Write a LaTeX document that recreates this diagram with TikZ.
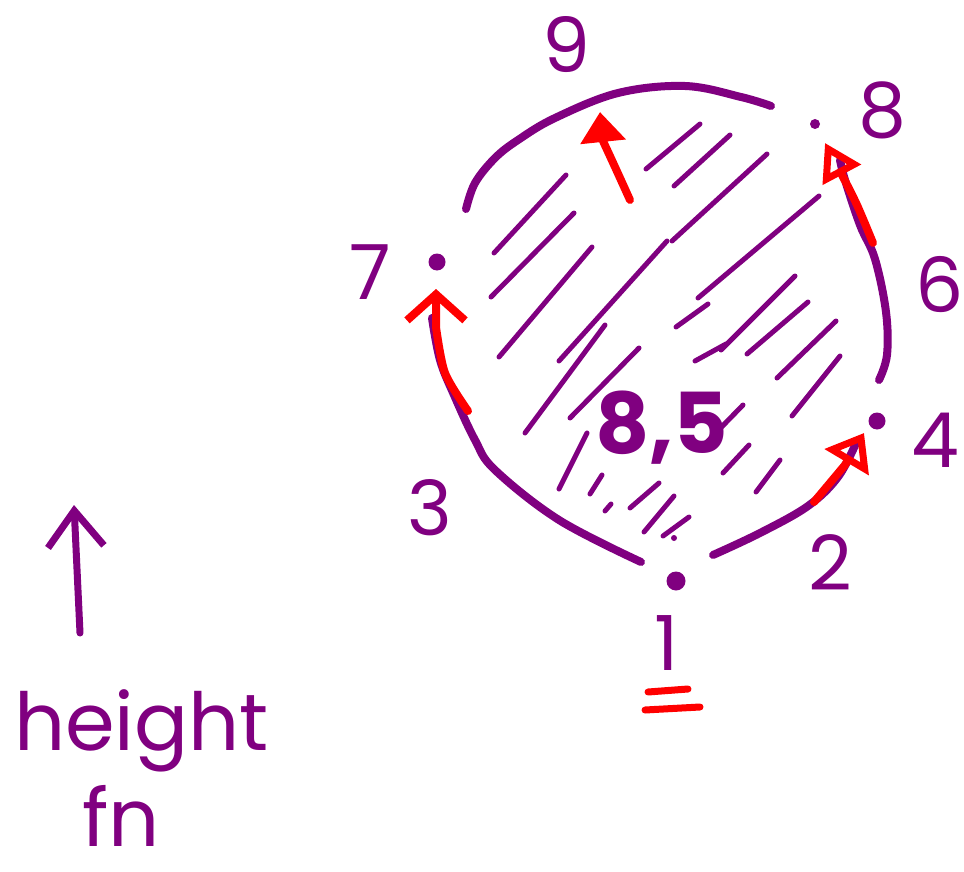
\documentclass[tikz,border=0pt]{standalone}
\usepackage{fontspec}
\setmainfont{Poppins}
\usetikzlibrary{arrows.meta}
\definecolor{pur}{HTML}{800080}
\definecolor{rd}{HTML}{FF0000}
\begin{document}
\begin{tikzpicture}[x=1pt,y=-1pt, line cap=round, line join=round,
 arcline/.style={pur, line width=8pt},
 hatch/.style={pur, line width=5pt},
 redarrow/.style={rd, line width=8pt},
 dot/.style={circle, fill=pur, inner sep=0pt},
 num/.style={pur, font=\fontsize{76}{76}\selectfont, inner sep=0pt}]
\useasboundingbox (0,0) rectangle (964,872);

% points
\node[dot, minimum size=19pt] (p1) at (676,581) {};
\node[dot, minimum size=17pt] (p4) at (877,421) {};
\node[dot, minimum size=17pt] (p7) at (437,262) {};
\node[dot, minimum size=10pt] (p8) at (815,124) {};

% labels
\node[num] (l9) at (566,45) {9};
\node[num] (l8) at (882,110) {8};
\node[num] (l7) at (370,272) {7};
\node[num] (l6) at (940,285) {6};
\node[num] (l4) at (935,440) {4};
\node[num] (l3) at (430,508) {3};
\node[num] (l2) at (830,563) {2};
\node[num] (l1) at (667,643) {1};
\node[num, font=\fontsize{84}{84}\selectfont\bfseries] (l85) at (662,428) {8,5};

% equals under 1
\draw[rd, line width=7pt] (648,692) -- (688,689);
\draw[rd, line width=7pt] (645,710) -- (700,707);

% purple boundary strokes
\draw[arcline] plot[smooth, tension=0.6] coordinates {(466,209) (475,183) (495,158) (518,140) (555,118) (618,93) (685,86) (741,97) (771,106)};
\draw[arcline] plot[smooth, tension=0.6] coordinates {(641,562) (559,520) (495,470) (475,440) (454,395) (440,360) (432,318)};
\draw[arcline] plot[smooth, tension=0.6] coordinates {(713,555) (760,533) (808,506) (838,477) (857,441)};
\draw[arcline] plot[smooth, tension=0.6] coordinates {(879,380) (887,355) (886,312) (875,259) (860,225) (845,180) (840,160)};

% hatching
\foreach \a/\b in {
 {(494,253)}/{(566,175)}, {(491,297)}/{(574,213)}, {(499,357)}/{(592,247)},
 {(646,169)}/{(700,124)}, {(674,186)}/{(730,135)}, {(672,241)}/{(767,154)},
 {(559,361)}/{(667,241)}, {(525,433)}/{(605,325)}, {(570,418)}/{(639,348)},
 {(698,298)}/{(819,196)}, {(676,327)}/{(708,304)}, {(721,350)}/{(795,276)},
 {(747,354)}/{(808,302)}, {(695,361)}/{(726,344)}, {(777,378)}/{(836,321)},
 {(792,416)}/{(840,356)}, {(706,443)}/{(743,405)}, {(723,473)}/{(749,445)},
 {(756,492)}/{(780,460)}, {(559,489)}/{(587,433)}, {(590,494)}/{(602,475)},
 {(605,511)}/{(611,504)}, {(630,508)}/{(659,483)}, {(644,532)}/{(674,496)},
 {(663,536)}/{(689,517)}}
 \draw[hatch] \a -- \b;
\fill[pur] (674,538) circle (3pt);

% red arrows
\draw[redarrow, -{Triangle[length=30pt,width=44pt]}] plot[smooth] coordinates {(630,200) (615,167) (603,141)} -- (600,112);
\draw[redarrow, -{Triangle[open,length=36pt,width=42pt,line width=7pt]}] plot[smooth] coordinates {(873,243) (857,205) (842,175)} -- (825,143);
\draw[redarrow, -{Straight Barb[length=26pt,width=58pt]}] plot[smooth] coordinates {(468,411) (445,373) (436,327)} -- (436,289);
\draw[redarrow, -{Triangle[open,length=34pt,width=50pt,line width=7pt]}] plot[smooth] coordinates {(814,502) (845,465)} -- (864,433);

% height fn
\coordinate (hs) at (80,633);
\coordinate (he) at (74,505);
\draw[pur, line width=7pt, -{Straight Barb[length=36pt,width=56pt]}] (hs) -- (he);
\node[pur, font=\fontsize{80}{80}\selectfont, anchor=base west, inner sep=0pt] (ht) at (14,750) {height};
\node[pur, font=\fontsize{80}{80}\selectfont, anchor=base west, inner sep=0pt] (fn) at (82,846) {fn};
\end{tikzpicture}
\end{document}
